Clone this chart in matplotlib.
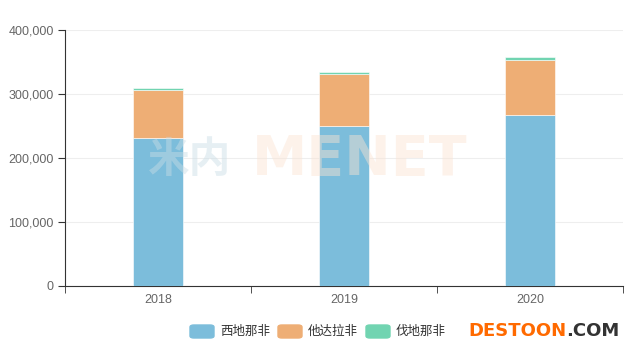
import matplotlib
matplotlib.use("Agg")
import matplotlib.pyplot as plt
from matplotlib.patches import FancyBboxPatch
import numpy as np

plt.rcParams['font.family'] = ['Noto Sans CJK SC', 'DejaVu Sans']

years = ["2018", "2019", "2020"]
series_names = ["西地那非", "他达拉非", "伐地那非"]
sildenafil = [232000, 249500, 266700]
tadalafil = [73500, 81300, 86900]
vardenafil = [3500, 3600, 3700]
colors = ["#7cbddb", "#eeae75", "#71d4b1"]
yticks = [0, 100000, 200000, 300000, 400000]

fig = plt.figure(figsize=(6.4, 3.53), dpi=100)
W, H = 640, 353
ax = fig.add_axes([65 / W, 1 - 286 / H, 558 / W, 256 / H])

x = np.arange(len(years))
bottom = np.zeros(len(years))
for vals, c in zip((sildenafil, tadalafil, vardenafil), colors):
    ax.bar(x, vals, width=0.27, bottom=bottom, color=c, edgecolor="white", linewidth=0.4, zorder=3)
    bottom += np.array(vals)

ax.set_xlim(-0.5, len(years) - 0.5)
ax.set_ylim(0, 400000)
ax.set_yticks(yticks)
ax.set_yticklabels([f"{v:,}" for v in yticks], color="#666666", fontsize=9,
                   family=["Liberation Sans", "DejaVu Sans"])
ax.set_xticks(x)
ax.set_xticklabels(years, color="#666666", fontsize=9, family=["Liberation Sans", "DejaVu Sans"])
ax.set_xticks(np.arange(-0.5, len(years)), minor=True)
ax.tick_params(axis="x", which="major", length=0, pad=6)
ax.tick_params(axis="x", which="minor", length=5, color="#333333")
ax.tick_params(axis="y", length=5, color="#333333", pad=3)
ax.grid(axis="y", color="#eeeeee", linewidth=0.8, zorder=0)
for s in ("top", "right"):
    ax.spines[s].set_visible(False)
for s in ("left", "bottom"):
    ax.spines[s].set_color("#333333")
    ax.spines[s].set_linewidth(0.8)

# faint watermark
fig.text(360 / W, 1 - 160 / H, "MENET", fontsize=40, fontweight="bold", color="#fbe3d2",
         alpha=0.45, ha="center", va="center", family="DejaVu Sans", zorder=5)
fig.text(190 / W, 1 - 160 / H, "米内", fontsize=30, fontweight="bold", color="#c9dde6",
         alpha=0.45, ha="center", va="center", zorder=5)

# legend
lx = [190, 278, 366]
for px, name, c in zip(lx, series_names, colors):
    fig.patches.append(FancyBboxPatch((px / W, 1 - 338 / H), 24 / W, 13 / H,
                                      boxstyle="round,pad=0,rounding_size=0.006",
                                      transform=fig.transFigure, color=c))
    fig.text((px + 30) / W, 1 - 331 / H, name, fontsize=9, color="#333333", va="center")

t1 = fig.text(468 / W, 1 - 331 / H, "DESTOON", fontsize=13, fontweight="bold", color="#ff6a00",
              va="center", family="DejaVu Sans")
fig.canvas.draw()
bb = t1.get_window_extent()
fig.text(bb.x1 / W, 1 - 331 / H, ".COM", fontsize=13, fontweight="bold", color="#333333",
         va="center", family="DejaVu Sans")

fig.savefig("out.png", dpi=100)
